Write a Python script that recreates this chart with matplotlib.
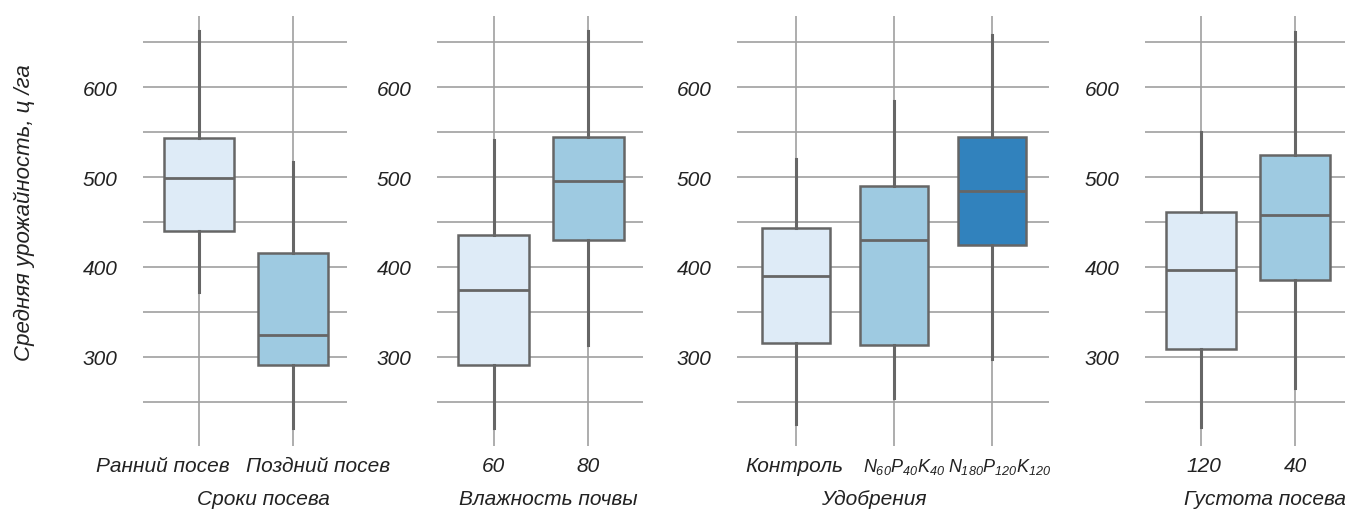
import matplotlib
matplotlib.use("Agg")
import matplotlib.pyplot as plt
import matplotlib.transforms as mtransforms
from matplotlib.ticker import MultipleLocator, FuncFormatter

plt.rcParams['font.family'] = ['Liberation Sans', 'DejaVu Sans']
plt.rcParams['font.style'] = 'italic'
plt.rcParams['mathtext.fontset'] = 'custom'
plt.rcParams['mathtext.it'] = 'Liberation Sans:italic'
plt.rcParams['mathtext.rm'] = 'Liberation Sans:italic'

# ---- data (ц/га) ----
sowing_labels = ["Ранний посев", "Поздний посев"]
sowing_whislo = [372, 221]
sowing_q1     = [440, 291]
sowing_med    = [499, 324]
sowing_q3     = [543, 415]
sowing_whishi = [662, 517]

moist_labels = ["60", "80"]
moist_whislo = [221, 313]
moist_q1     = [291, 430]
moist_med    = [374, 496]
moist_q3     = [435, 544]
moist_whishi = [541, 662]

fert_labels = ["Контроль", r"$N_{60}P_{40}K_{40}$", r"$N_{180}P_{120}K_{120}$"]
fert_whislo = [225, 254, 298]
fert_q1     = [315, 313, 424]
fert_med    = [390, 430, 484]
fert_q3     = [443, 490, 544]
fert_whishi = [520, 585, 658]

dens_labels = ["120", "40"]
dens_whislo = [222, 266]
dens_q1     = [309, 385]
dens_med    = [397, 458]
dens_q3     = [461, 525]
dens_whishi = [550, 661]

panels = [
    ("Сроки посева", sowing_labels, sowing_whislo, sowing_q1, sowing_med, sowing_q3, sowing_whishi),
    ("Влажность почвы", moist_labels, moist_whislo, moist_q1, moist_med, moist_q3, moist_whishi),
    ("Удобрения", fert_labels, fert_whislo, fert_q1, fert_med, fert_q3, fert_whishi),
    ("Густота посева", dens_labels, dens_whislo, dens_q1, dens_med, dens_q3, dens_whishi),
]

# ---- layout (pixels) ----
W, H = 1345, 510
ax_left = [143, 437, 737, 1145]
ax_right = [347, 643, 1049, 1349]
ax_top, ax_bot = 17, 447
xlabel_pos = [0.59, 0.54, 0.44, 0.59]
# horizontal nudges of tick labels (px), the reference spreads some apart
tick_shift = [[-36, 25], [0, 0], [-2, 10, 7], [3, 1]]
blues = ["#deebf7", "#9ecae1", "#3182bd"]
edge = "#666666"
grid_c = "#a0a0a0"
txt_c = "#222222"

fig = plt.figure(figsize=(W / 100, H / 100), dpi=100)

for i, (title, labels, lo, q1, med, q3, hi) in enumerate(panels):
    rect = [ax_left[i] / W, 1 - ax_bot / H, (ax_right[i] - ax_left[i]) / W, (ax_bot - ax_top) / H]
    ax = fig.add_axes(rect)
    n = len(labels)
    stats = [dict(whislo=lo[k], q1=q1[k], med=med[k], q3=q3[k], whishi=hi[k], fliers=[])
             for k in range(n)]
    width = 0.75 if n == 2 else 0.7
    bp = ax.bxp(stats, positions=list(range(n)), widths=width, patch_artist=True,
                showcaps=False, showfliers=False,
                boxprops=dict(edgecolor=edge, linewidth=1.8),
                whiskerprops=dict(color=edge, linewidth=2.2),
                medianprops=dict(color=edge, linewidth=2.0))
    for k, box in enumerate(bp["boxes"]):
        box.set_facecolor(blues[k])
        box.set_zorder(3)
    for art in bp["medians"] + bp["whiskers"]:
        art.set_zorder(4)

    ax.set_xlim(-0.6, n - 0.42)
    ax.set_ylim(201, 679)
    ax.yaxis.set_major_locator(MultipleLocator(50))
    ax.yaxis.set_major_formatter(FuncFormatter(lambda v, p: f"{v:.0f}" if v % 100 == 0 else ""))
    ax.set_xticks(range(n))
    ax.set_xticklabels(labels)
    ax.grid(True, color=grid_c, linewidth=1.2, zorder=0)
    ax.set_axisbelow(True)
    for s in ax.spines.values():
        s.set_visible(False)
    ax.tick_params(axis="both", length=0, labelsize=15, colors=txt_c)
    ax.tick_params(axis="y", pad=18.5)
    ax.tick_params(axis="x", pad=7)
    for lab, dx in zip(ax.get_xticklabels(), tick_shift[i]):
        lab.set_transform(lab.get_transform() +
                          mtransforms.ScaledTranslation(dx / 100, 0, fig.dpi_scale_trans))
        if lab.get_text().startswith("$"):
            lab.set_fontsize(13)
    ax.set_xlabel(title, fontsize=15, color=txt_c, fontstyle="italic")
    ax.xaxis.set_label_coords(xlabel_pos[i], -0.1)

fig.text(24 / W, 1 - 213 / H, "Средняя урожайность, ц /га", rotation=90,
         ha="center", va="center", fontsize=16, color=txt_c, fontstyle="italic")

fig.savefig("out.png", dpi=100)
